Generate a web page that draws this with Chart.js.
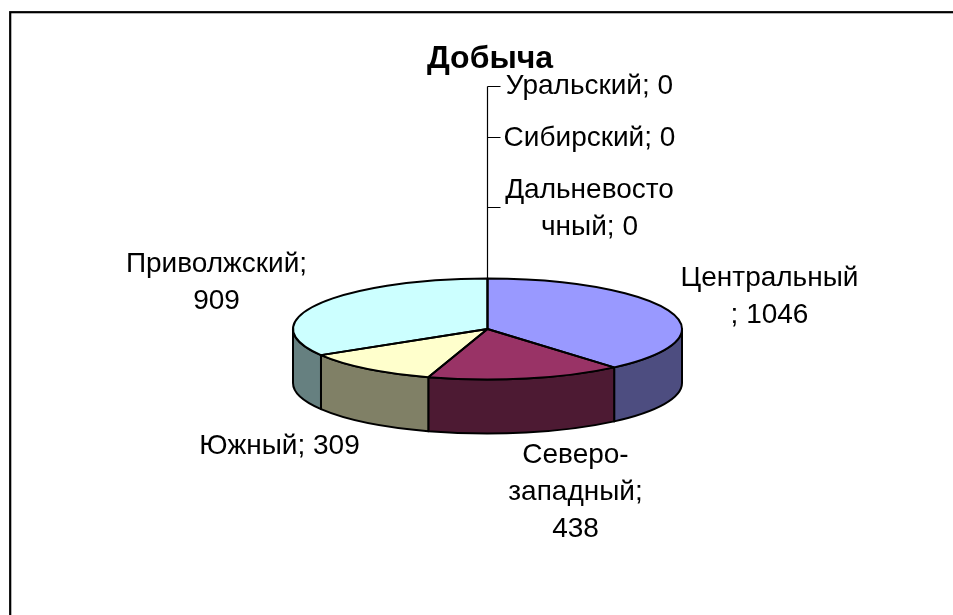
<!DOCTYPE html>
<html lang="ru">
<head>
<meta charset="utf-8">
<title>Добыча</title>
<script src="https://cdn.jsdelivr.net/npm/chart.js@4/dist/chart.umd.min.js"></script>
<style>
  html, body { margin: 0; padding: 0; background: #fff; overflow: hidden; }
  canvas { display: block; }
</style>
</head>
<body>
<canvas id="chartDobycha" width="953" height="615"></canvas>
<script>
/* ================= DATA ================= */
const regions = ["Центральный", "Северо-западный", "Южный", "Приволжский", "Уральский", "Сибирский", "Дальневосточный"];
const values = [1046, 438, 309, 909, 0, 0, 0];
const chartTitle = "Добыча";

/* ================= STYLE ================= */
const topColors = ["#9999FF", "#993366", "#FFFFCC", "#CCFFFF", "#FF99CC", "#FFCC99", "#CCCCFF"];
const sideColors = ["#4D4D80", "#4D1A33", "#808066", "#668080", "#804D66", "#80664D", "#666680"];
const FONT = '"Liberation Sans", Arial, sans-serif';
const TILT = 0.26;    // ellipse height / width
const DEPTH = 54;     // thickness of the pie
const EDGE = 2;       // outline of the pie

// label placement relative to pie centre; cuts = where the text wraps
const labelPlaces = [
  { dx: 282, dy: -51, cuts: [11] },
  { dx: 88, dy: 126, cuts: [7, 16] },
  { dx: -208, dy: 117, cuts: [] },
  { dx: -271, dy: -65, cuts: [12] },
  { dx: 102, dy: -243, cuts: [], tick: -242.5 },
  { dx: 102, dy: -191, cuts: [], tick: -191.5 },
  { dx: 102, dy: -139, cuts: [11], tick: -121.5 }
];
const lineGap = 37;

function arcs(chart) {
  return chart.getDatasetMeta(0).data.map(a =>
    a.getProps(["x", "y", "startAngle", "endAngle", "outerRadius"], true));
}

/* ================= 3D PIE PLUGIN ================= */
const pie3d = {
  id: "pie3d",
  afterLayout(chart) {
    // the title sits a little right of the pie centre
    chart.titleBlock.left += 2.5;
    chart.titleBlock.right += 2.5;
  },
  beforeDraw(chart) {
    const ctx = chart.ctx;
    ctx.save();
    ctx.fillStyle = "#fff";
    ctx.fillRect(0, 0, chart.width, chart.height);
    ctx.strokeStyle = "#000";
    ctx.lineWidth = 2.2;
    ctx.strokeRect(10.2, 12.2, chart.width + 50, chart.height + 50);
    ctx.restore();
  },
  beforeDatasetsDraw(chart) {
    const ctx = chart.ctx;
    ctx.save();
    ctx.lineWidth = EDGE;
    ctx.strokeStyle = "#000";
    ctx.lineJoin = "round";

    // side walls, only the front half of the pie can be seen
    arcs(chart).forEach((a, i) => {
      const from = Math.max(a.startAngle, 0);
      const to = Math.min(a.endAngle, Math.PI);
      if (to <= from) return;
      const ry = a.outerRadius * TILT;
      ctx.beginPath();
      ctx.ellipse(a.x, a.y, a.outerRadius, ry, 0, from, to);
      ctx.ellipse(a.x, a.y + DEPTH, a.outerRadius, ry, 0, to, from, true);
      ctx.closePath();
      ctx.fillStyle = sideColors[i];
      ctx.fill();
      ctx.stroke();
    });
    ctx.restore();

    // squash the flat slices the library draws next
    const first = arcs(chart)[0];
    ctx.save();
    ctx.translate(first.x, first.y);
    ctx.scale(1, TILT);
    ctx.translate(-first.x, -first.y);
  },
  afterDatasetsDraw(chart) {
    const ctx = chart.ctx;
    ctx.restore();

    // outlines outside of the squash so the pen stays even
    ctx.save();
    ctx.lineWidth = EDGE;
    ctx.strokeStyle = "#000";
    ctx.lineJoin = "round";
    arcs(chart).forEach(a => {
      if (a.endAngle <= a.startAngle) return;
      ctx.beginPath();
      ctx.moveTo(a.x, a.y);
      ctx.ellipse(a.x, a.y, a.outerRadius, a.outerRadius * TILT, 0, a.startAngle, a.endAngle);
      ctx.closePath();
      ctx.stroke();
    });
    ctx.restore();
  },
  afterDraw(chart) {
    const ctx = chart.ctx;
    const c = arcs(chart)[0];
    ctx.save();

    /* leader lines of the empty slices */
    const ticks = labelPlaces.filter(p => p.tick !== undefined).map(p => p.tick);
    ctx.strokeStyle = "#000";
    ctx.lineWidth = 1.2;
    ctx.beginPath();
    ctx.moveTo(c.x, c.y);
    ctx.lineTo(c.x, c.y + Math.min(...ticks));
    ticks.forEach(t => {
      ctx.moveTo(c.x, c.y + t);
      ctx.lineTo(c.x + 13, c.y + t);
    });
    ctx.stroke();

    /* labels */
    ctx.fillStyle = "#000";
    ctx.font = "28px " + FONT;
    ctx.textAlign = "center";
    ctx.textBaseline = "middle";
    regions.forEach((name, i) => {
      const place = labelPlaces[i];
      const text = `${name}; ${values[i]}`;
      const ends = [...place.cuts, text.length];
      let start = 0;
      ends.forEach((end, row) => {
        ctx.fillText(text.slice(start, end).trim(), c.x + place.dx, c.y + place.dy + row * lineGap);
        start = end;
      });
    });
    ctx.restore();
  }
};

/* ================= CHART ================= */
new Chart(document.getElementById("chartDobycha"), {
  type: "pie",
  data: {
    labels: regions,
    datasets: [{
      data: values,
      backgroundColor: topColors,
      borderWidth: 0
    }]
  },
  options: {
    responsive: false,
    animation: false,
    layout: { padding: { left: 293, right: 271, top: 39.8, bottom: 91.5 } },
    plugins: {
      legend: { display: false },
      tooltip: { enabled: false },
      title: {
        display: true,
        text: chartTitle,
        color: "#000",
        font: { family: FONT, size: 32, weight: "bold" },
        padding: { top: 0, bottom: 56.3 }
      }
    }
  },
  plugins: [pie3d]
});
</script>
</body>
</html>
